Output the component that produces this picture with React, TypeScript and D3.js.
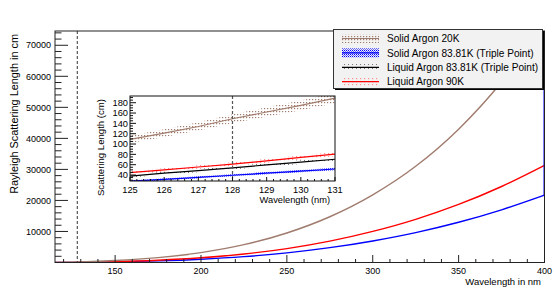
import React from "react";
import * as d3 from "d3";

// main plot: wavelength (nm) vs Rayleigh scattering length (cm)
const wavelengths = [115, 120, 125, 128, 131, 140, 150, 175, 200, 225, 250, 275, 300, 325, 350, 375, 400];
const solid20K = [30, 60, 109, 150, 189, 410, 640, 1570, 3180, 5740, 9510, 14740, 21800, 31000, 42950, 58150, 77300];
const solidTriple = [8, 15, 28, 39.5, 51.6, 125, 203, 511, 1052, 1896, 3111, 4778, 6947, 9643, 12970, 16980, 21700];
const liquid90K = [12, 22, 44.5, 61, 80.6, 180, 292, 737, 1517, 2734, 4486, 6891, 10020, 13910, 18710, 24490, 31300];

// inset: zoom around 128 nm, with uncertainty bands
const insetWl = [125, 126, 127, 128, 129, 130, 131];
const insetSolid20K = [109, 121, 134, 149, 162, 175, 189];
const insetSolid20KErr = [7, 7.5, 8, 8.5, 9, 9.5, 10];
const insetSolidTriple = [28, 31.5, 35.5, 39.5, 43.5, 47.5, 51.6];
const insetSolidTripleErr = [1.8, 1.8, 2, 2, 2.2, 2.3, 2.4];
const insetLiquidTriple = [38, 43.5, 48.5, 54, 59.5, 65, 70.5];
const insetLiquidTripleErr = [3, 3, 3, 3.2, 3.4, 3.6, 3.8];
const insetLiquid90K = [44.5, 50, 55.5, 61, 67.5, 74, 80.5];
const insetLiquid90KErr = [3, 3.2, 3.4, 3.6, 3.8, 4, 4.2];

const legendLabels = [
  "Solid Argon 20K",
  "Solid Argon 83.81K (Triple Point)",
  "Liquid Argon 83.81K (Triple Point)",
  "Liquid Argon 90K",
];

const W = 554;
const H = 292;
const FONT = "'Liberation Sans', Arial, Helvetica, sans-serif";
const BROWN = "#a07c6e";

const frame = { left: 55, right: 544.5, top: 31, bottom: 262.5 };
const inset = { left: 130, right: 335, top: 96, bottom: 181 };

export default function App() {
  const x = d3.scaleLinear().domain([115, 400]).range([frame.left, frame.right]);
  const y = d3.scaleLinear().domain([0, 74600]).range([frame.bottom, frame.top]);

  const ix = d3.scaleLinear().domain([125, 131]).range([inset.left, inset.right]);
  const iy = d3.scaleLinear().domain([28.4, 193]).range([inset.bottom, inset.top]);

  const mainLine = (vals: number[]) =>
    d3
      .line<number>()
      .x((_, i) => x(wavelengths[i]))
      .y((d) => y(d))
      .curve(d3.curveMonotoneX)(vals) || "";

  const insetLine = (vals: number[]) =>
    d3
      .line<number>()
      .x((_, i) => ix(insetWl[i]))
      .y((d) => iy(d))(vals) || "";

  const insetBand = (vals: number[], err: number[]) =>
    d3
      .area<number>()
      .x((_, i) => ix(insetWl[i]))
      .y0((d, i) => iy(d - err[i]))
      .y1((d, i) => iy(d + err[i]))(vals) || "";

  const xMajor = d3.range(150, 401, 50);
  const xMinor = d3.range(120, 401, 10).filter((v) => v % 50 !== 0);
  const yMajor = d3.range(10000, 70001, 10000);
  const yMinor = d3.range(2000, 74600, 2000).filter((v) => v % 10000 !== 0);

  const ixMajor = d3.range(125, 132, 1);
  const ixMinor = d3.range(125, 131.01, 0.2).filter((v) => Math.abs(v - Math.round(v)) > 0.01);
  const iyMajor = d3.range(40, 181, 20);
  const iyMinor = d3.range(30, 193, 5).filter((v) => v % 20 !== 0);

  const swatches = [
    { fill: "url(#brownDots)", line: BROWN },
    { fill: "url(#blueDense)", line: "#0000ff" },
    { fill: "url(#grayDots)", line: "#000" },
    { fill: "url(#redDots)", line: "#ff0000" },
  ];

  return (
    <div style={{ position: "absolute", left: 0, top: 0 }}>
      <svg width={W} height={H} style={{ display: "block", fontFamily: FONT }}>
        <defs>
          <clipPath id="frameClip">
            <rect x={frame.left} y={frame.top} width={frame.right - frame.left} height={frame.bottom - frame.top} />
          </clipPath>
          <clipPath id="insetClip">
            <rect x={inset.left} y={inset.top} width={inset.right - inset.left} height={inset.bottom - inset.top} />
          </clipPath>
          <pattern id="brownDots" width="3" height="3" patternUnits="userSpaceOnUse">
            <rect x="0" y="0" width="1.2" height="1.2" fill={BROWN} />
          </pattern>
          <pattern id="blueDense" width="2" height="2" patternUnits="userSpaceOnUse">
            <rect x="0" y="0" width="1" height="1" fill="#0000ff" />
            <rect x="1" y="1" width="1" height="1" fill="#6a6aff" />
          </pattern>
          <pattern id="grayDots" width="4" height="4" patternUnits="userSpaceOnUse">
            <rect x="0" y="0" width="1" height="1" fill="#777" />
          </pattern>
          <pattern id="redDots" width="4" height="3" patternUnits="userSpaceOnUse">
            <rect x="0" y="0" width="1.2" height="1.2" fill="#ff9090" />
          </pattern>
        </defs>

        <rect x={0} y={0} width={W} height={H} fill="#fff" />

        {/* main curves */}
        <g clipPath="url(#frameClip)" fill="none" strokeWidth={1.4}>
          <path d={mainLine(solidTriple)} stroke="#0000ff" />
          <path d={mainLine(liquid90K)} stroke="#ff0000" />
          <path d={mainLine(solid20K)} stroke={BROWN} />
          <line
            x1={x(400) - 0.5}
            x2={x(400) - 0.5}
            y1={frame.top}
            y2={y(solidTriple[solidTriple.length - 1])}
            stroke="#0000ff"
            strokeWidth={1}
          />
        </g>

        {/* 128 nm marker */}
        <line x1={x(128)} x2={x(128)} y1={frame.top} y2={frame.bottom} stroke="#555" strokeWidth={1.2} strokeDasharray="3,2" />

        {/* main frame and ticks */}
        <rect
          x={frame.left}
          y={frame.top}
          width={frame.right - frame.left}
          height={frame.bottom - frame.top}
          fill="none"
          stroke="#222"
          strokeWidth={1}
        />
        <g stroke="#222" strokeWidth={1}>
          {xMajor.map((v) => (
            <line key={"xM" + v} x1={x(v)} x2={x(v)} y1={frame.bottom} y2={frame.bottom - 7.5} />
          ))}
          {xMinor.map((v) => (
            <line key={"xm" + v} x1={x(v)} x2={x(v)} y1={frame.bottom} y2={frame.bottom - 3.5} />
          ))}
          {yMajor.map((v) => (
            <line key={"yM" + v} x1={frame.left} x2={frame.left + 13} y1={y(v)} y2={y(v)} />
          ))}
          {yMinor.map((v) => (
            <line key={"ym" + v} x1={frame.left} x2={frame.left + 6.5} y1={y(v)} y2={y(v)} />
          ))}
        </g>
        <g fontSize={9} fill="#000">
          {xMajor.map((v) => (
            <text key={"xl" + v} x={x(v)} y={273.5} textAnchor="middle">
              {v}
            </text>
          ))}
          {yMajor.map((v) => (
            <text key={"yl" + v} x={frame.left - 4} y={y(v) + 3.2} textAnchor="end">
              {v}
            </text>
          ))}
        </g>
        <text x={541} y={284.5} fontSize={9.5} textAnchor="end">
          Wavelength in nm
        </text>
        <text transform={`translate(17.5,${frame.top + 3}) rotate(-90)`} fontSize={10.9} textAnchor="end">
          Rayleigh Scattering Length in cm
        </text>

        {/* inset */}
        <rect
          x={inset.left}
          y={inset.top}
          width={inset.right - inset.left}
          height={inset.bottom - inset.top}
          fill="#fff"
        />
        <g clipPath="url(#insetClip)">
          <path d={insetBand(insetSolid20K, insetSolid20KErr)} fill="url(#brownDots)" />
          <path d={insetBand(insetLiquid90K, insetLiquid90KErr)} fill="url(#redDots)" />
          <path d={insetBand(insetLiquidTriple, insetLiquidTripleErr)} fill="url(#grayDots)" />
          <path d={insetBand(insetSolidTriple, insetSolidTripleErr)} fill="url(#blueDense)" opacity={0.8} />
          <g fill="none" strokeWidth={1.2}>
            <path d={insetLine(insetSolid20K)} stroke={BROWN} />
            <path d={insetLine(insetLiquid90K)} stroke="#ff0000" />
            <path d={insetLine(insetLiquidTriple)} stroke="#000" />
            <path d={insetLine(insetSolidTriple)} stroke="#0000ff" />
          </g>
          <line x1={ix(128)} x2={ix(128)} y1={inset.top} y2={inset.bottom} stroke="#555" strokeWidth={1.2} strokeDasharray="3,2" />
        </g>
        <rect
          x={inset.left}
          y={inset.top}
          width={inset.right - inset.left}
          height={inset.bottom - inset.top}
          fill="none"
          stroke="#111"
          strokeWidth={1}
        />
        <g stroke="#111" strokeWidth={1}>
          {ixMajor.map((v) => (
            <line key={"ixM" + v} x1={ix(v)} x2={ix(v)} y1={inset.bottom} y2={inset.bottom - 4} />
          ))}
          {ixMinor.map((v) => (
            <line key={"ixm" + v.toFixed(1)} x1={ix(v)} x2={ix(v)} y1={inset.bottom} y2={inset.bottom - 2} />
          ))}
          {iyMajor.map((v) => (
            <line key={"iyM" + v} x1={inset.left} x2={inset.left + 6} y1={iy(v)} y2={iy(v)} />
          ))}
          {iyMinor.map((v) => (
            <line key={"iym" + v} x1={inset.left} x2={inset.left + 3} y1={iy(v)} y2={iy(v)} />
          ))}
        </g>
        <g fontSize={9.3} fill="#000">
          {ixMajor.map((v) => (
            <text key={"ixl" + v} x={ix(v)} y={192.8} textAnchor="middle">
              {v}
            </text>
          ))}
          {iyMajor.map((v) => (
            <text key={"iyl" + v} x={inset.left - 2} y={iy(v) + 3.3} textAnchor="end">
              {v}
            </text>
          ))}
        </g>
        <text x={inset.right - 5} y={203} fontSize={9.3} textAnchor="end">
          Wavelength (nm)
        </text>
        <text transform={`translate(103.5,${inset.top + 3}) rotate(-90)`} fontSize={9.6} textAnchor="end">
          Scattering Length (cm)
        </text>

        {/* legend */}
        <rect x={335} y={31} width={209} height={59} fill="#000" />
        <rect x={333.5} y={29.5} width={209} height={59} fill="#f2f2f2" stroke="#333" strokeWidth={1} />
        {legendLabels.map((label, i) => {
          const cy = 38.5 + i * 14.4;
          const s = swatches[i];
          return (
            <g key={label}>
              <rect x={342} y={cy - 4.5} width={37} height={9} fill={s.fill} />
              <line x1={342} x2={379} y1={cy} y2={cy} stroke={s.line} strokeWidth={1.2} />
              <text x={387} y={cy + 3.6} fontSize={10.1} fill="#000">
                {label}
              </text>
            </g>
          );
        })}
      </svg>
    </div>
  );
}
